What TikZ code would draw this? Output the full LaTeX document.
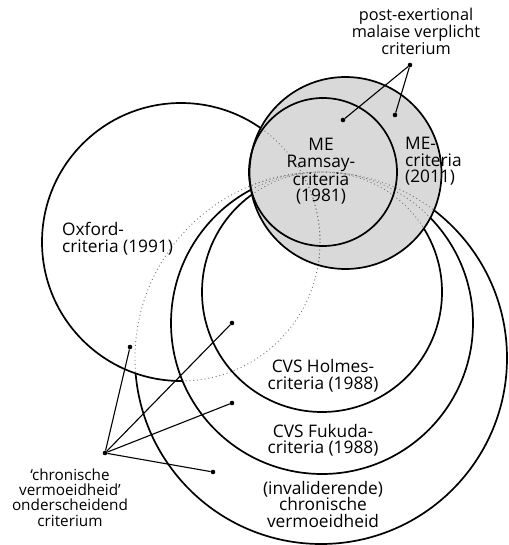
\documentclass[tikz,border=0pt]{standalone}
\usepackage{fontspec}
\setmainfont{Open Sans}
\definecolor{mefill}{RGB}{217,217,217}
\definecolor{dotgray}{RGB}{115,115,115}
\begin{document}
\begin{tikzpicture}[x=1pt,y=-1pt,
  solidc/.style={line width=1.7pt},
  dotc/.style={line width=0.9pt, dotgray, dash pattern=on 0.9pt off 2.9pt},
  ptr/.style={line width=1.1pt},
  dotnode/.style={circle, fill=black, inner sep=0pt, minimum size=4.6pt},
  setlab/.style={font=\fontsize{17.3}{16.5}\selectfont, align=center, inner sep=0pt, anchor=base},
  toplab/.style={font=\fontsize{16.3}{14.6}\selectfont, align=center, inner sep=0pt, anchor=base},
  leftlab/.style={font=\fontsize{15.3}{15.3}\selectfont, align=center, inner sep=0pt, anchor=base},
  outbox/.style={insert path={(-300,-300) -- (-300,900) -- (900,900) -- (900,-300) -- cycle}}
]
\useasboundingbox[fill=white] (0,0) rectangle (508,545);

\coordinate (oxc) at (181,242);
\coordinate (mec) at (345.5,173);
\coordinate (rac) at (323,172);
\coordinate (hoc) at (322,292);
\coordinate (fuc) at (322,323);
\coordinate (bic) at (321,358);

% grey ME region
\fill[mefill] (mec) circle (96);

% dotted (hidden) parts
\begin{scope}
  \clip (fuc) circle (151);
  \draw[dotc] (oxc) circle (139);
\end{scope}
\begin{scope}
  \clip (mec) circle (96);
  \draw[dotc] (oxc) circle (139);
  \draw[dotc] (bic) circle (186);
  \draw[dotc] (fuc) circle (151);
  \draw[dotc] (hoc) circle (120);
\end{scope}
\begin{scope}
  \clip (oxc) circle (139);
  \draw[dotc] (bic) circle (186);
\end{scope}

% solid parts
\begin{scope}
  \clip[outbox] (mec) circle (96);
  \draw[solidc] (hoc) circle (120);
  \draw[solidc] (fuc) circle (151);
  \begin{scope}
    \clip[outbox] (oxc) circle (139);
    \draw[solidc] (bic) circle (186);
  \end{scope}
  \begin{scope}
    \clip[outbox] (fuc) circle (151);
    \draw[solidc] (oxc) circle (139);
  \end{scope}
\end{scope}

\draw[solidc] (rac) circle (74);
\draw[solidc] (mec) circle (96);

% labels (anchor base = baseline of last line)
\node[toplab] (pem) at (416,54.5) {post-exertional\\malaise verplicht\\criterium};
\node[setlab] (ramsay) at (321,201.5) {ME\\Ramsay-\\criteria\\(1981)};
\node[setlab, anchor=base west, align=left] (icc) at (405,182.5) {ME-\\criteria\\(2011)};
\node[setlab, anchor=base west, align=left] (oxford) at (62,252) {Oxford-\\criteria (1991)};
\node[setlab] (holmes) at (323,389) {CVS Holmes-\\criteria (1988)};
\node[setlab] (fukuda) at (323,453.5) {CVS Fukuda-\\criteria (1988)};
\node[setlab] (cf) at (323,527) {(invaliderende)\\chronische\\vermoeidheid};
\node[leftlab] (cfcrit) at (70,526) {‘chronische\\vermoeidheid’\\onderscheidend\\criterium};

% pointers
\node[dotnode] (hubt) at (410,65) {};
\node[dotnode] (pt1) at (343,120) {};
\node[dotnode] (pt2) at (395,115) {};
\draw[ptr] (hubt) -- (pt1);
\draw[ptr] (hubt) -- (pt2);

\node[dotnode] (hubl) at (105,453) {};
\node[dotnode] (pl1) at (130,347) {};
\node[dotnode] (pl2) at (232,323) {};
\node[dotnode] (pl3) at (232,403) {};
\node[dotnode] (pl4) at (213,472) {};
\draw[ptr] (hubl) -- (pl1);
\draw[ptr] (hubl) -- (pl2);
\draw[ptr] (hubl) -- (pl3);
\draw[ptr] (hubl) -- (pl4);
\end{tikzpicture}
\end{document}
